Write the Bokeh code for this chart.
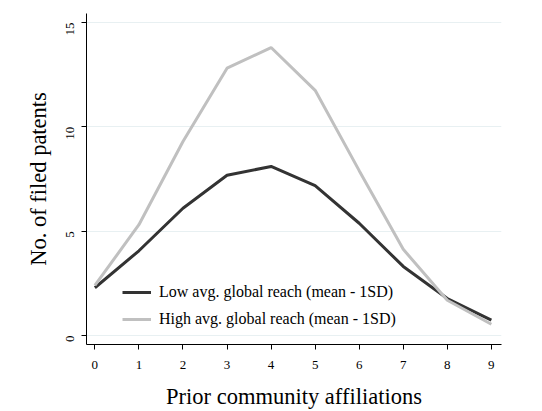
from bokeh.plotting import figure
from bokeh.models import Range1d, Legend, LegendItem, FixedTicker
from bokeh.embed import file_html
from bokeh.resources import INLINE
import math

affiliations = [0, 1, 2, 3, 4, 5, 6, 7, 8, 9]
low_reach = [2.29, 4.06, 6.1, 7.68, 8.1, 7.18, 5.38, 3.31, 1.77, 0.74]
high_reach = [2.4, 5.31, 9.3, 12.81, 13.8, 11.75, 7.9, 4.13, 1.69, 0.54]
x_ticks = [0, 1, 2, 3, 4, 5, 6, 7, 8, 9]
y_ticks = [0, 5, 10, 15]
label_low = "Low avg. global reach (mean - 1SD)"
label_high = "High avg. global reach (mean - 1SD)"

FONT = "Liberation Serif"

p = figure(width=542, height=411, output_backend="svg", toolbar_location=None,
           x_range=Range1d(-0.19, 9.23), y_range=Range1d(-0.43, 15.43),
           min_border_left=86, min_border_right=41, min_border_top=13, min_border_bottom=63)
p.outline_line_color = None
p.background_fill_color = "white"

r_low = p.line(affiliations, low_reach, line_color="#333333", line_width=3)
r_high = p.line(affiliations, high_reach, line_color="#c0c0c0", line_width=3)

p.xgrid.visible = False
p.ygrid.grid_line_color = "#e8f0f2"
p.ygrid.grid_line_width = 1
p.ygrid.ticker = FixedTicker(ticks=y_ticks)

for ax in (p.xaxis[0], p.yaxis[0]):
    ax.axis_line_color = "black"
    ax.axis_line_width = 1
    ax.major_tick_line_color = "black"
    ax.major_tick_out = 5
    ax.major_tick_in = 0
    ax.minor_tick_line_color = None
    ax.major_label_text_font = FONT
    ax.major_label_text_font_size = "13px"
    ax.major_label_text_color = "black"
    ax.axis_label_text_font = FONT
    ax.axis_label_text_font_size = "22.5px"
    ax.axis_label_text_font_style = "normal"
    ax.axis_label_text_color = "black"

p.xaxis[0].ticker = FixedTicker(ticks=x_ticks)
p.yaxis[0].ticker = FixedTicker(ticks=y_ticks)
p.yaxis[0].major_label_orientation = math.pi / 2
p.xaxis[0].axis_label = "Prior community affiliations"
p.yaxis[0].axis_label = "No. of filed patents"
p.xaxis[0].major_label_standoff = 11
p.xaxis[0].axis_label_standoff = 12
p.yaxis[0].major_label_standoff = 11
p.yaxis[0].axis_label_standoff = 9

legend = Legend(items=[LegendItem(label=label_low, renderers=[r_low]),
                       LegendItem(label=label_high, renderers=[r_high])],
                location=(36, 15))
legend.border_line_color = None
legend.background_fill_alpha = 0
legend.padding = 0
legend.margin = 0
legend.spacing = 7
legend.glyph_width = 29
legend.glyph_height = 20
legend.label_height = 20
legend.label_standoff = 8
legend.label_text_font = FONT
legend.label_text_font_size = "16px"
legend.label_text_color = "black"
p.add_layout(legend, "center")

open("out.html", "w").write(file_html(p, INLINE))
